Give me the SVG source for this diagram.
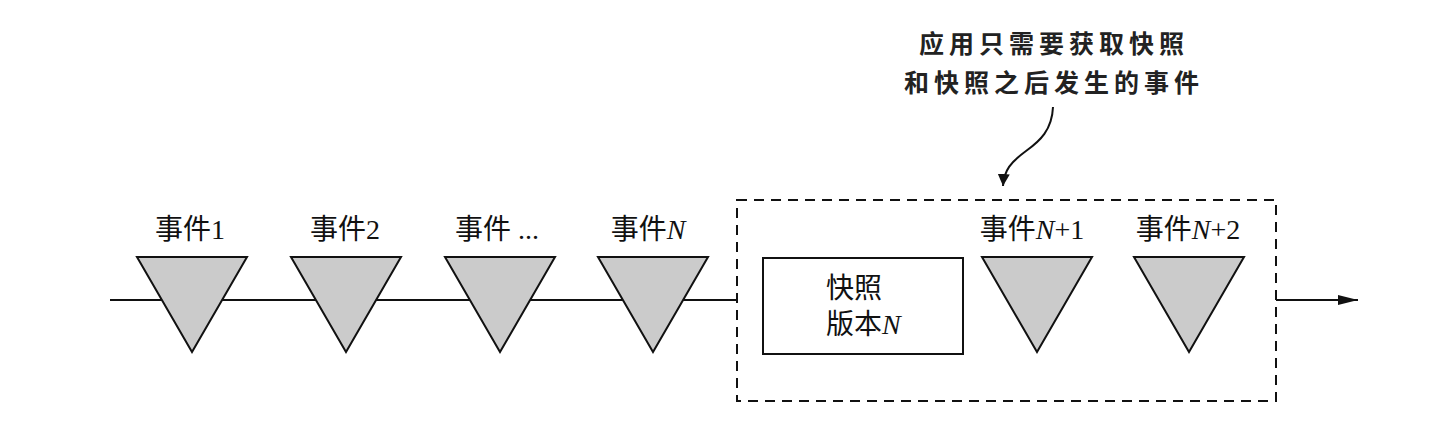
<svg xmlns="http://www.w3.org/2000/svg" width="1450" height="422" viewBox="0 0 1450 422">
<defs>
<style>
.ev{fill:#cbcbcb;stroke:#111;stroke-width:2;stroke-linejoin:miter}
.lbl{font-family:"Liberation Serif","Noto Sans CJK SC",serif;font-size:28px;fill:#111;text-anchor:middle}
.it{font-style:italic}
.box{fill:#fff;stroke:#111;stroke-width:2}
.snap{font-family:"Liberation Serif","Noto Sans CJK SC",serif;font-size:28px;fill:#111}
.note{font-family:"Noto Sans CJK SC",sans-serif;font-weight:bold;font-size:25px;fill:#222;text-anchor:middle;letter-spacing:5px}
.line{fill:none;stroke:#111;stroke-width:2}
</style>
<marker id="ah" viewBox="0 0 20 10" refX="20" refY="5" markerWidth="20" markerHeight="10" markerUnits="userSpaceOnUse" orient="auto">
<path d="M0,0 L20,5 L0,10 Z" fill="#111"/>
</marker>
<marker id="ah2" viewBox="0 0 12 12" refX="12" refY="6" markerWidth="12" markerHeight="12" markerUnits="userSpaceOnUse" orient="auto">
<path d="M0,0 L12,6 L0,12 Z" fill="#111"/>
</marker>
</defs>
<g id="connectors">
<line class="line" x1="110" y1="300" x2="737" y2="300"/>
<line class="line" x1="1276" y1="300" x2="1358" y2="300" marker-end="url(#ah)"/>
<path class="line" d="M1053,107 C1052,130 1040,141 1026,151 C1011,162 1004,170 1003,186" marker-end="url(#ah2)"/>
</g>
<g id="snapshot-group">
<rect x="737" y="200" width="539" height="201" fill="none" stroke="#111" stroke-width="2" stroke-dasharray="10,7"/>
</g>
<g id="event1">
<polygon class="ev" points="137,257 247,257 192,352"/>
<text class="lbl" x="190" y="239">事件1</text>
</g>
<g id="event2">
<polygon class="ev" points="291,257 401,257 346,352"/>
<text class="lbl" x="345" y="239">事件2</text>
</g>
<g id="event-dots">
<polygon class="ev" points="445,257 555,257 500,352"/>
<text class="lbl" x="497" y="239">事件 ...</text>
</g>
<g id="eventN">
<polygon class="ev" points="598,257 708,257 653,352"/>
<text class="lbl" x="648" y="239">事件<tspan class="it">N</tspan></text>
</g>
<g id="snapshot">
<rect class="box" x="763" y="258" width="200" height="96"/>
<text class="snap" x="826" y="298">快照</text>
<text class="snap" x="826" y="334">版本<tspan class="it">N</tspan></text>
</g>
<g id="eventN1">
<polygon class="ev" points="982,257 1092,257 1037,352"/>
<text class="lbl" x="1032" y="239">事件<tspan class="it">N</tspan>+1</text>
</g>
<g id="eventN2">
<polygon class="ev" points="1134,257 1244,257 1189,352"/>
<text class="lbl" x="1188" y="239">事件<tspan class="it">N</tspan>+2</text>
</g>
<g id="note">
<text class="note" x="1054" y="53">应用只需要获取快照</text>
<text class="note" x="1054" y="92">和快照之后发生的事件</text>
</g>
</svg>
